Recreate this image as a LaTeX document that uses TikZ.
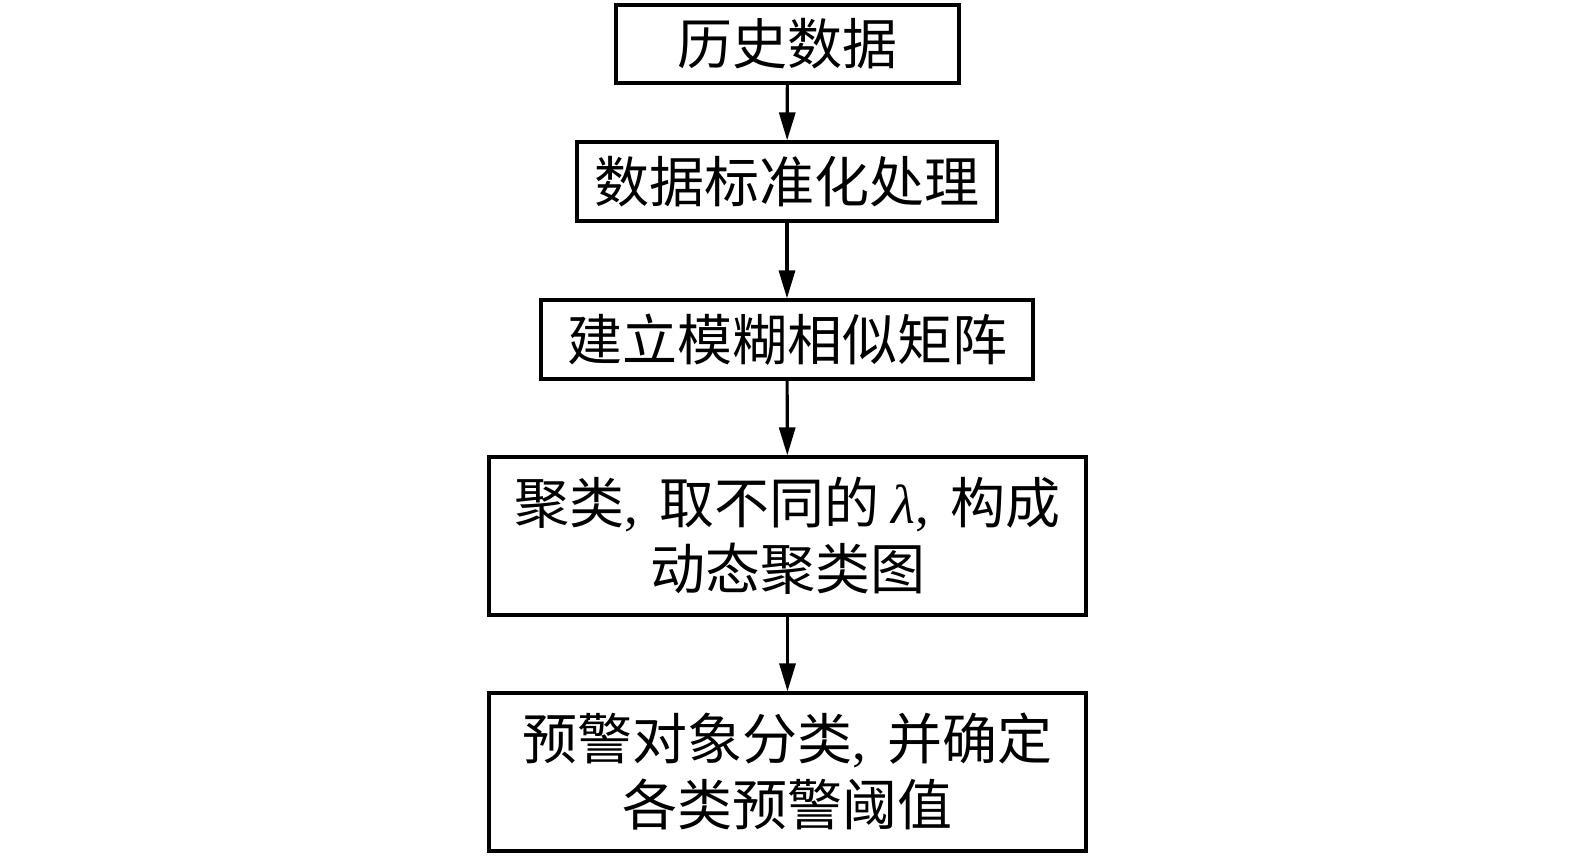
\documentclass[tikz,border=0pt]{standalone}
\usepackage{fontspec}
\setmainfont{Liberation Serif}
\newfontfamily\cjk{Noto Sans CJK SC}[Scale=1]
\usetikzlibrary{arrows.meta}
\begin{document}
\begin{tikzpicture}[x=0.5pt,y=-0.5pt,
  box/.style={draw,line width=1.6pt,rectangle,inner sep=0pt,align=center,
    font=\cjk\fontsize{27.5pt}{33pt}\selectfont},
  conn/.style={line width=1.6pt,-{Triangle[length=14pt,width=8pt]}}]
\useasboundingbox (0,0) rectangle (1575,856);
\node[box,minimum width=171.5pt,minimum height=39pt] (a) at (787.5,44) {历史数据};
\node[box,minimum width=210pt,minimum height=39.5pt] (b) at (787,181.5) {数据标准化处理};
\node[box,minimum width=246pt,minimum height=39.5pt] (c) at (787,339.5) {建立模糊相似矩阵};
\node[box,minimum width=298.5pt,minimum height=79pt] (d) at (787.5,536) {聚类{\rmfamily,}\, 取不同的 {\rmfamily\itshape λ}{\rmfamily,}\, 构成\\动态聚类图};
\node[box,minimum width=298.5pt,minimum height=79pt] (e) at (787.5,772) {预警对象分类{\rmfamily,}\, 并确定\\各类预警阈值};
\draw[conn] (a) -- (b);
\draw[conn] (b) -- (c);
\draw[conn] (c) -- (d);
\draw[conn] (d) -- (e);
\end{tikzpicture}
\end{document}
